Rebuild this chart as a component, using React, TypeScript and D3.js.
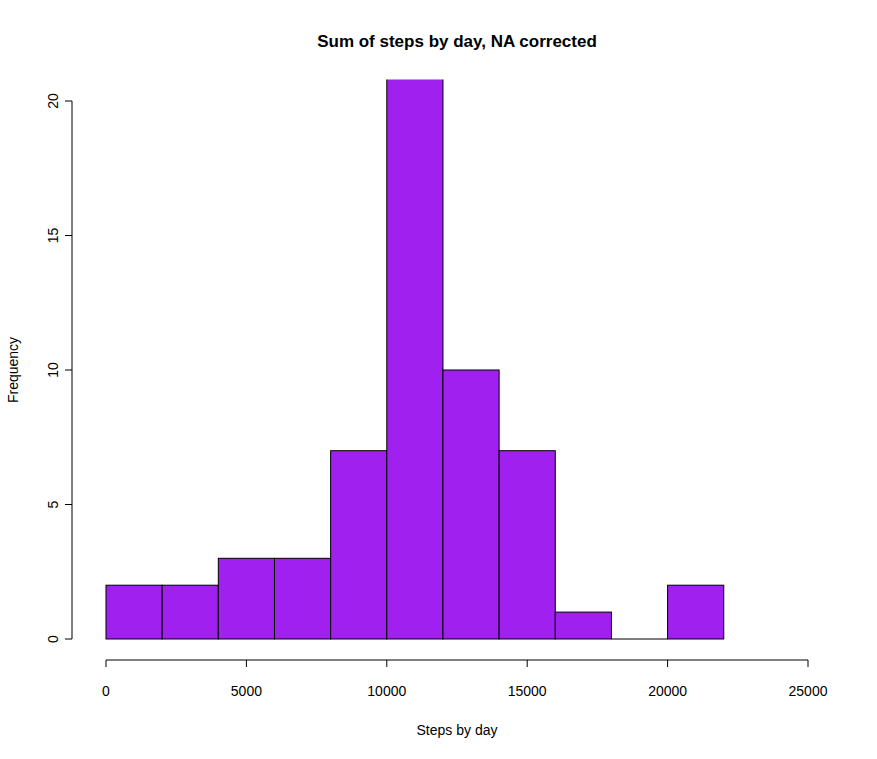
import * as d3 from 'd3'

const binStarts = [0, 2000, 4000, 6000, 8000, 10000, 12000, 14000, 16000, 18000, 20000]
const binWidth = 2000
const counts = [2, 2, 3, 3, 7, 24, 10, 7, 1, 0, 2]
const xTicks = [0, 5000, 10000, 15000, 20000, 25000]
const yTicks = [0, 5, 10, 15, 20]

export default function App() {
  const W = 877, H = 759
  const x = d3.scaleLinear().domain([0, 25000]).range([106, 808])
  const y = d3.scaleLinear().domain([0, 20]).range([639, 101])
  const top = y(20.8)
  const font = 'Liberation Sans, Arial, sans-serif'
  return (
    <svg width={W} height={H} style={{ position: 'absolute', left: 0, top: 0, background: '#fff' }} fontFamily={font}>
      <defs>
        <clipPath id="plot"><rect x={72} y={top} width={770} height={660 - top} /></clipPath>
      </defs>
      <text x={457} y={47} textAnchor="middle" fontWeight="bold" fontSize={17}>Sum of steps by day, NA corrected</text>
      <g clipPath="url(#plot)">
        {binStarts.map((s, i) => counts[i] > 0 ? (
          <rect key={s} x={x(s)} width={x(s + binWidth) - x(s)} y={y(counts[i])} height={y(0) - y(counts[i])}
            fill="#a020f0" stroke="#000" strokeWidth={1} />
        ) : null)}
        {binStarts.map((s, i) => counts[i] === 0 ? (
          <line key={s} x1={x(s)} x2={x(s + binWidth)} y1={y(0)} y2={y(0)} stroke="#000" />
        ) : null)}
      </g>
      <line x1={x(0)} x2={x(25000)} y1={660} y2={660} stroke="#000" />
      {xTicks.map(t => (
        <g key={t}>
          <line x1={x(t)} x2={x(t)} y1={660} y2={667} stroke="#000" />
          <text x={x(t)} y={696} textAnchor="middle" fontSize={14}>{t}</text>
        </g>
      ))}
      <line x1={72} x2={72} y1={y(0)} y2={y(20)} stroke="#000" />
      {yTicks.map(t => (
        <g key={t}>
          <line x1={72} x2={65} y1={y(t)} y2={y(t)} stroke="#000" />
          <text transform={`translate(58,${y(t)}) rotate(-90)`} textAnchor="middle" fontSize={14}>{t}</text>
        </g>
      ))}
      <text x={457} y={735} textAnchor="middle" fontSize={14}>Steps by day</text>
      <text transform={`translate(18,370) rotate(-90)`} textAnchor="middle" fontSize={14}>Frequency</text>
    </svg>
  )
}
